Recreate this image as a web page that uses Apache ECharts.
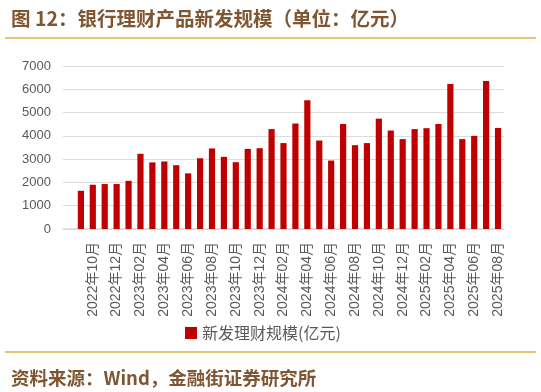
<!DOCTYPE html>
<html>
<head>
<meta charset="utf-8">
<script src="https://cdn.jsdelivr.net/npm/echarts@6/dist/echarts.min.js"></script>
<style>html,body{margin:0;padding:0;background:#fff;}#c{width:541px;height:392px;}</style>
</head>
<body>
<div id="c"></div>
<script>
const titleText = "图 12：银行理财产品新发规模（单位：亿元）";
const sourceText = "资料来源：Wind，金融街证券研究所";
const seriesName = "新发理财规模(亿元)";
const months = ["",
  "2022年09月","2022年10月","2022年11月","2022年12月",
  "2023年01月","2023年02月","2023年03月","2023年04月","2023年05月","2023年06月",
  "2023年07月","2023年08月","2023年09月","2023年10月","2023年11月","2023年12月",
  "2024年01月","2024年02月","2024年03月","2024年04月","2024年05月","2024年06月",
  "2024年07月","2024年08月","2024年09月","2024年10月","2024年11月","2024年12月",
  "2025年01月","2025年02月","2025年03月","2025年04月","2025年05月","2025年06月",
  "2025年07月","2025年08月"];
const newIssue = [null,
  1640,1900,1930,1930,
  2070,3230,2860,2900,2740,2390,
  3040,3460,3100,2870,3440,3470,
  4290,3690,4530,5530,3800,2940,
  4510,3600,3690,4740,4230,3860,
  4290,4330,4510,6230,3860,4000,
  6360,4340];
const yTicks = [0,1000,2000,3000,4000,5000,6000,7000];

const chart = echarts.init(document.getElementById('c'));
chart.setOption({
  animation: false,
  backgroundColor: '#fff',
  title: [{
    text: titleText, left: 6, top: 4,
    textStyle: {fontFamily: '"Noto Sans CJK SC"', fontSize: 19.5, fontWeight: 'bold', color: '#7f5631'}
  },{
    text: sourceText, left: 6, top: 364,
    textStyle: {fontFamily: '"Noto Sans CJK SC"', fontSize: 18.5, fontWeight: 'bold', color: '#7f5631'}
  }],
  graphic: [
    {type: 'line', shape: {x1: 5, y1: 38, x2: 536, y2: 38}, style: {stroke: '#e3c775', lineWidth: 2}},
    {type: 'line', shape: {x1: 5, y1: 352, x2: 536, y2: 352}, style: {stroke: '#e3c775', lineWidth: 2}}
  ],
  legend: {
    left: 180, top: 320, icon: 'rect', itemWidth: 12, itemHeight: 12,
    textStyle: {fontFamily: '"Noto Sans CJK SC"', fontSize: 16, color: '#595959'},
    data: [seriesName]
  },
  grid: {left: 63, right: 37, top: 66, bottom: 163, containLabel: false},
  xAxis: {
    type: 'category', data: months,
    axisLine: {lineStyle: {color: '#d9d9d9', width: 1.5}},
    axisTick: {show: false},
    axisLabel: {
      interval: 1, rotate: 90, margin: 13,
      fontFamily: 'Arial, "Noto Sans CJK SC"', fontSize: 14, color: '#595959'
    }
  },
  yAxis: {
    type: 'value', min: 0, max: 7000, interval: 1000,
    axisLine: {show: false}, axisTick: {show: false},
    splitLine: {lineStyle: {color: '#dcdcdc', width: 1}},
    axisLabel: {margin: 12, fontFamily: 'Arial', fontSize: 13, color: '#595959',
      formatter: v => yTicks.includes(v) ? String(v) : ''}
  },
  series: [{
    name: seriesName, type: 'bar', data: newIssue, barWidth: '52%',
    itemStyle: {color: '#c00000'}
  }]
});
</script>
</body>
</html>
